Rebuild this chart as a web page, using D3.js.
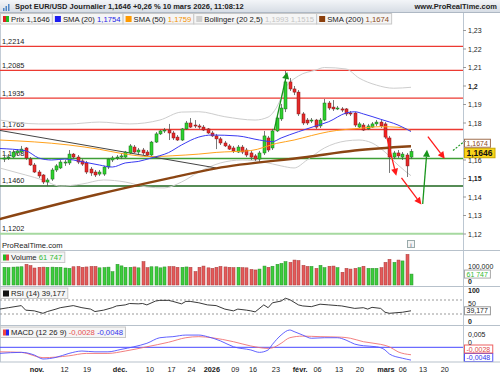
<!DOCTYPE html>
<html>
<head>
<meta charset="utf-8">
<title>Spot EUR/USD Journalier</title>
<script src="https://d3js.org/d3.v7.min.js"></script>
<style>
  body { margin: 0; background: #fff; }
  svg { display: block; font-family: "Liberation Sans", Arial, sans-serif; font-size: 7px; }
</style>
</head>
<body>
<svg id="chart" width="500" height="375"></svg>
<script>

// ---- daily candles, 95 trading days (index 0 .. 94 = 10 mars 2026)
var opens = [1.1605,1.1611,1.1616,1.1638,1.1643,1.1665,1.1605,1.1573,1.1535,1.1519,
  1.1481,1.1497,1.1546,1.1557,1.1584,1.1584,1.1632,1.1616,1.1595,1.1584,
  1.1551,1.1535,1.1524,1.1524,1.1562,1.1600,1.1611,1.1616,1.1616,1.1638,
  1.1670,1.1643,1.1654,1.1643,1.1627,1.1697,1.1741,1.1757,1.1762,1.1746,
  1.1724,1.1708,1.1768,1.1800,1.1789,1.1784,1.1778,1.1768,1.1746,1.1730,
  1.1714,1.1692,1.1676,1.1665,1.1643,1.1670,1.1654,1.1638,1.1622,1.1605,
  1.1638,1.1719,1.1665,1.1757,1.1822,1.1876,1.2022,1.1984,1.1967,1.1849,
  1.1816,1.1811,1.1816,1.1784,1.1816,1.1908,1.1886,1.1881,1.1876,1.1876,
  1.1854,1.1854,1.1778,1.1789,1.1768,1.1778,1.1795,1.1805,1.1795,1.1719,
  1.1616,1.1638,1.1616,1.1627,1.1616];
var highs = [1.1627,1.1632,1.1654,1.1659,1.1676,1.1670,1.1616,1.1584,1.1546,1.1524,
  1.1503,1.1557,1.1578,1.1600,1.1600,1.1654,1.1638,1.1627,1.1605,1.1595,
  1.1562,1.1546,1.1546,1.1568,1.1611,1.1622,1.1627,1.1638,1.1649,1.1686,
  1.1681,1.1665,1.1665,1.1654,1.1703,1.1751,1.1762,1.1773,1.1795,1.1757,
  1.1735,1.1773,1.1811,1.1827,1.1816,1.1795,1.1789,1.1773,1.1757,1.1741,
  1.1724,1.1703,1.1686,1.1676,1.1681,1.1681,1.1665,1.1649,1.1632,1.1649,
  1.1757,1.1730,1.1768,1.1838,1.1903,1.2081,1.2043,1.2000,1.1978,1.1859,
  1.1827,1.1827,1.1822,1.1827,1.1930,1.1919,1.1924,1.1892,1.1886,1.1881,
  1.1865,1.1859,1.1805,1.1800,1.1795,1.1805,1.1816,1.1816,1.1805,1.1730,
  1.1649,1.1654,1.1643,1.1638,1.1659];
var lows = [1.1589,1.1600,1.1611,1.1627,1.1632,1.1600,1.1568,1.1530,1.1503,1.1470,
  1.1459,1.1487,1.1535,1.1551,1.1568,1.1573,1.1605,1.1578,1.1568,1.1524,
  1.1514,1.1508,1.1514,1.1514,1.1551,1.1589,1.1600,1.1605,1.1611,1.1632,
  1.1638,1.1632,1.1627,1.1622,1.1622,1.1692,1.1735,1.1746,1.1708,1.1708,
  1.1703,1.1703,1.1762,1.1773,1.1773,1.1768,1.1757,1.1741,1.1724,1.1659,
  1.1681,1.1670,1.1654,1.1638,1.1638,1.1632,1.1616,1.1600,1.1595,1.1589,
  1.1627,1.1643,1.1654,1.1751,1.1811,1.1859,1.1973,1.1951,1.1838,1.1789,
  1.1789,1.1800,1.1768,1.1773,1.1811,1.1870,1.1865,1.1870,1.1859,1.1838,
  1.1838,1.1778,1.1773,1.1757,1.1762,1.1773,1.1784,1.1773,1.1714,1.1530,
  1.1605,1.1611,1.1600,1.1508,1.1605];
var closes = [1.1611,1.1616,1.1643,1.1649,1.1659,1.1611,1.1573,1.1535,1.1514,1.1481,
  1.1492,1.1546,1.1568,1.1589,1.1589,1.1632,1.1616,1.1589,1.1578,1.1535,
  1.1530,1.1519,1.1535,1.1562,1.1605,1.1611,1.1616,1.1622,1.1643,1.1676,
  1.1643,1.1654,1.1638,1.1627,1.1697,1.1741,1.1757,1.1762,1.1746,1.1719,
  1.1708,1.1768,1.1800,1.1778,1.1784,1.1778,1.1762,1.1746,1.1730,1.1714,
  1.1692,1.1676,1.1659,1.1649,1.1670,1.1643,1.1627,1.1616,1.1605,1.1638,
  1.1730,1.1654,1.1757,1.1827,1.1881,1.2022,1.1984,1.1967,1.1849,1.1800,
  1.1800,1.1816,1.1778,1.1816,1.1908,1.1881,1.1876,1.1881,1.1870,1.1849,
  1.1849,1.1789,1.1795,1.1762,1.1784,1.1795,1.1805,1.1784,1.1724,1.1616,
  1.1638,1.1622,1.1632,1.1568,1.1646];
var volumes = [100000,98000,101000,102000,103000,117000,110000,96000,100000,101000,
  100000,101000,100000,100000,96000,94000,103000,105000,100000,102000,
  105000,105000,97000,98000,101000,75000,117000,108000,100000,100000,
  102000,97000,132000,98000,103000,103000,97000,102000,104000,104000,
  100000,100000,102000,100000,76000,100000,107000,97000,94000,100000,
  105000,102000,100000,98000,100000,98000,97000,88000,85000,90000,
  107000,100000,106000,117000,122000,132000,128000,141000,138000,111000,
  105000,105000,94000,111000,98000,106000,107000,98000,72000,94000,
  90000,94000,98000,106000,94000,94000,94000,98000,128000,145000,
  128000,141000,136000,173000,61747];

// ---- indicators (index, value)
var sma20Idx = [-1,5,8,11,14,18,22,25,28,31,34,38,41,45,48,54,59,62,64,68,72,75,79,81,83,87,91,94];
var sma20Val = [1.1662,1.1650,1.1611,1.1600,1.1605,1.1591,1.1573,1.1562,1.1584,1.1592,1.1611,1.1640,1.1681,1.1724,
  1.1735,1.1730,1.1708,1.1699,1.1719,1.1753,1.1784,1.1807,1.1854,1.1861,1.1849,1.1820,1.1789,1.1754];
var sma50Idx = [-1,15,22,27,34,39,45,49,57,63,67,71,75,82,87,91,94];
var sma50Val = [1.1708,1.1681,1.1658,1.1636,1.1618,1.1623,1.1632,1.1641,1.1651,1.1690,1.1708,1.1732,1.1753,1.1771,1.1780,1.1777,1.1759];
var sma200Idx = [-1,21,38,49,70,81,94];
var sma200Val = [1.1281,1.1411,1.1501,1.1555,1.1616,1.1651,1.1674];
var bbUpIdx = [-1,8,15,22,29,36,41,45,51,58,61,63,65,68,72,74,79,82,86,90,94];
var bbUpVal = [1.1816,1.1795,1.1795,1.1805,1.1795,1.1816,1.1859,1.1861,1.1834,1.1816,1.1832,1.1886,1.1989,1.2054,
  1.2086,1.2100,1.2092,1.2043,1.2005,1.1988,1.1993];
var bbLoIdx = [-1,5,9,13,18,23,28,33,37,41,45,50,55,60,64,67,70,74,79,82,85,88,91,94];
var bbLoVal = [1.1557,1.1519,1.1492,1.1459,1.1470,1.1492,1.1481,1.1454,1.1449,1.1481,1.1535,1.1584,1.1600,1.1589,
  1.1568,1.1557,1.1600,1.1665,1.1703,1.1708,1.1692,1.1643,1.1573,1.1515];
var rsiIdx = [-1,1,4,5,7,9,10,12,13,16,18,20,21,23,25,26,28,29,31,32,33,35,36,38,39,41,42,43,45,47,
  49,51,53,54,56,57,58,60,61,62,64,65,66,68,69,71,73,75,77,78,81,83,84,85,87,88,89,91,92,94];
var rsiVal = [44,48,54,41,39,32,37,44,48,54,48,44,37,41,48,53,56,60,59,60,56,67,69,69,66,59,66,66,62,56,
  54,44,39,44,41,39,36,56,48,62,67,75,71,56,53,51,58,56,54,53,46,48,44,49,46,35,32,34,35,39.177];
var macdIdx = [-1,4,7,9,12,15,18,21,24,27,30,33,36,39,42,45,47,50,53,57,59,61,62,64,66,67,69,71,74,77,79,81,83,86,88,89,92,94];
var macdVal = [-0.0023,-0.0019,-0.0029,-0.0044,-0.0038,-0.0023,-0.0014,-0.0017,-0.0017,-0.0008,
  0.0002,0.0015,0.0036,0.0040,0.0046,0.0046,0.0040,0.0024,0.0002,-0.0010,
  -0.0019,-0.0010,0.0011,0.0046,0.0065,0.0059,0.0046,0.0034,0.0036,0.0036,
  0.0027,0.0012,0.0006,0.0002,-0.0010,-0.0025,-0.0041,-0.0048];
var sigIdx = [-1,4,9,15,19,24,28,33,38,42,45,48,53,57,61,62,64,66,69,73,78,80,83,87,89,91,94];
var sigVal = [-0.0017,-0.0019,-0.0039,-0.0032,-0.0023,-0.0023,-0.0014,0.0002,0.0019,0.0036,0.0040,0.0036,0.0021,
  0.0005,-0.0004,-0.0002,0.0015,0.0036,0.0042,0.0040,0.0038,0.0034,0.0021,0.0011,0.0002,-0.0017,-0.0028];

// ---- horizontal levels and drawn objects
var levelVals = [1.2214, 1.2085, 1.1935, 1.1765, 1.1608, 1.1460, 1.1202];
var levelKind = ["res", "res", "res", "res", "sup", "sup2", "sup3"];
var trendIdx = [-1, 49];
var trendVal = [1.1760, 1.1557];
var arrows = [
  {kind: "up", from: [62.4, 1.1762], to: [65.4, 1.2076]},
  {kind: "down", from: [88, 1.1762], to: [90.6, 1.1515]},
  {kind: "down", from: [91.8, 1.1503], to: [96.4, 1.1360]},
  {kind: "up", from: [96.7, 1.1362], to: [97.7, 1.1655]},
  {kind: "down", from: [97.9, 1.1726], to: [101.8, 1.1607]}
];

// ---- axis labels
var tickLabels = ["nov.","12","19","déc.","10","17","24","2026","09","16","23","févr.","06","13","20","mars","06","13","20"];
var tickIdx = [7.6,14,19.2,26.8,33.7,38.7,43.3,48,53.4,57.5,62.8,68.4,72.4,77.4,82.2,88.2,92.1,96.8,101.8];
var monthLabels = ["nov.","déc.","2026","févr.","mars"];

var svg = d3.select("#chart");
var plotR = 463;

var x = d3.scaleLinear().domain([0, 94]).range([4, 411]);
var yP = d3.scaleLinear().domain([1.12, 1.23]).range([234, 30.5]);
var yV = d3.scaleLinear().domain([0, 100000]).range([285, 267.3]);
var yR = d3.scaleLinear().domain([0, 100]).range([324.5, 289.5]);
var yM = d3.scaleLinear().domain([0, 0.005]).range([347.3, 334]);

var comma = function(v) { return String(v).replace(".", ","); };

var defs = svg.append("defs");
var grad = defs.append("linearGradient").attr("id", "hdr").attr("x1", 0).attr("x2", 0).attr("y1", 0).attr("y2", 1);
grad.append("stop").attr("offset", "0%").attr("stop-color", "#f3f5f8");
grad.append("stop").attr("offset", "100%").attr("stop-color", "#d6dce4");
defs.append("clipPath").attr("id", "mainClip").append("rect").attr("x", 0).attr("y", 25).attr("width", plotR).attr("height", 225);
defs.append("clipPath").attr("id", "plotClip").append("rect").attr("x", 0).attr("y", 250).attr("width", plotR).attr("height", 112);

// header
svg.append("rect").attr("x", 0).attr("y", 0).attr("width", 500).attr("height", 12.5).attr("fill", "url(#hdr)");
svg.append("line").attr("x1", 0).attr("x2", 500).attr("y1", 12.5).attr("y2", 12.5).attr("stroke", "#aeb8c4");
[3, 5.5, 8].forEach(function(bx, k) {
  svg.append("rect").attr("x", bx).attr("y", 8 - k * 2).attr("width", 1.5).attr("height", 3 + k * 2).attr("fill", "#4f86c6");
});
svg.append("text").attr("x", 15).attr("y", 9.2).attr("font-weight", "bold").attr("font-size", 7.5).attr("fill", "#222")
  .text("Spot EUR/USD Journalier 1,1646 +0,26 % 10 mars 2026, 11:08:12");
svg.append("text").attr("x", 497).attr("y", 9.2).attr("text-anchor", "end").attr("font-weight", "bold").attr("font-size", 7.5).attr("fill", "#222")
  .text("www.ProRealTime.com");

// legend boxes, laid out from their measured text
function icon(g, type, ix, iy) {
  var cols = {pr: ["#dd2222", "#22bb22"], vol: ["#22bb22", "#dd4444"], macd: ["#ee4444", "#2222ee"]};
  if (cols[type]) {
    g.append("rect").attr("x", ix).attr("y", iy).attr("width", 3).attr("height", 6).attr("fill", cols[type][0]);
    g.append("rect").attr("x", ix + 3).attr("y", iy).attr("width", 3).attr("height", 6).attr("fill", cols[type][1]);
  } else {
    g.append("rect").attr("x", ix).attr("y", iy).attr("width", 6).attr("height", 6).attr("fill", type);
  }
}
function legend(x0, y0, items) {
  var cx = x0;
  items.forEach(function(it) {
    var g = svg.append("g");
    var box = g.append("rect").attr("x", cx + 0.5).attr("y", y0 + 0.5).attr("height", 10.5)
      .attr("fill", "#f5f5f5").attr("stroke", "#c8c8c8");
    icon(g, it.icon, cx + 3, y0 + 3);
    var t = g.append("text").attr("x", cx + 11).attr("y", y0 + 8.6).attr("font-size", 7.7);
    t.append("tspan").attr("fill", "#222").text(it.name + " ");
    it.vals.forEach(function(v, k) {
      t.append("tspan").attr("fill", it.colors[k]).text((k ? " " : "") + v);
    });
    var w = t.node().getComputedTextLength() + 13;
    box.attr("width", w);
    cx += w;
  });
}
legend(0, 13, [
  {icon: "pr", name: "Prix", vals: ["1,1646"], colors: ["#222"]},
  {icon: "#1c1cf0", name: "SMA (20)", vals: ["1,1754"], colors: ["#2525e6"]},
  {icon: "#ff9a00", name: "SMA (50)", vals: ["1,1759"], colors: ["#f39200"]},
  {icon: "#cfcfcf", name: "Bollinger (20 2,5)", vals: ["1,1993", "1,1515"], colors: ["#c4c4c4", "#c4c4c4"]},
  {icon: "#8b3f0c", name: "SMA (200)", vals: ["1,1674"], colors: ["#8b4a1a"]}
]);

// right axis line
svg.append("line").attr("x1", plotR + 0.5).attr("x2", plotR + 0.5).attr("y1", 13).attr("y2", 362).attr("stroke", "#bcc7d2");
svg.append("line").attr("x1", 0.5).attr("x2", 0.5).attr("y1", 25).attr("y2", 362).attr("stroke", "#c3ccd6");

// ---- main price panel
var main = svg.append("g").attr("clip-path", "url(#mainClip)");
var levelStyle = {
  res: {c: "#ec3a32", w: 1.3},
  sup: {c: "#3f9e36", w: 1.5},
  sup2: {c: "#1e661e", w: 1.5},
  sup3: {c: "#a6d9a0", w: 2}
};
levelVals.forEach(function(v, k) {
  var s = levelStyle[levelKind[k]];
  main.append("line").attr("x1", 0).attr("x2", plotR).attr("y1", yP(v)).attr("y2", yP(v))
    .attr("stroke", s.c).attr("stroke-width", s.w);
  main.append("text").attr("x", 2).attr("y", yP(v) - 2.5).attr("fill", "#222").attr("font-size", 7.3)
    .text(comma(v.toFixed(4)));
});

function path(g, idx, vals, yScale, color, width, curve) {
  var pts = idx.map(function(d, k) { return [d, vals[k]]; });
  g.append("path")
    .attr("d", d3.line().x(function(d) { return x(d[0]); }).y(function(d) { return yScale(d[1]); })
      .curve(curve || d3.curveMonotoneX)(pts))
    .attr("fill", "none").attr("stroke", color).attr("stroke-width", width);
}

path(main, bbUpIdx, bbUpVal, yP, "#cdcdcd", 1);
path(main, bbLoIdx, bbLoVal, yP, "#cdcdcd", 1);
path(main, trendIdx, trendVal, yP, "#444", 1, d3.curveLinear);

var candles = d3.range(opens.length).map(function(i) {
  return {i: i, o: opens[i], h: highs[i], l: lows[i], c: closes[i]};
});
var cg = main.append("g").selectAll("g").data(candles).enter().append("g");
cg.append("line")
  .attr("x1", function(d) { return Math.round(x(d.i)) + 0.5; })
  .attr("x2", function(d) { return Math.round(x(d.i)) + 0.5; })
  .attr("y1", function(d) { return yP(d.h); })
  .attr("y2", function(d) { return yP(d.l); })
  .attr("stroke", "#555").attr("stroke-width", 0.8);
cg.append("rect")
  .attr("x", function(d) { return Math.round(x(d.i)) - 1; })
  .attr("width", 3)
  .attr("y", function(d) { return yP(Math.max(d.o, d.c)); })
  .attr("height", function(d) { return Math.max(1, Math.abs(yP(d.o) - yP(d.c))); })
  .attr("fill", function(d) { return d.c >= d.o ? "#2ed12e" : "#e52a2a"; })
  .attr("stroke", function(d) { return d.c >= d.o ? "#1b6e1b" : "#8a1616"; })
  .attr("stroke-width", 0.5);

path(main, sma50Idx, sma50Val, yP, "#ffa21c", 1);
path(main, sma20Idx, sma20Val, yP, "#3a3af2", 1);
path(main, sma200Idx, sma200Val, yP, "#8b4513", 2.4);

// drawn arrows
arrows.forEach(function(a) {
  var col = a.kind === "up" ? "#18951c" : "#ff1a1a";
  var x1 = x(a.from[0]), y1 = yP(a.from[1]), x2 = x(a.to[0]), y2 = yP(a.to[1]);
  var ang = Math.atan2(y2 - y1, x2 - x1);
  var bx = x2 - 7 * Math.cos(ang), by = y2 - 7 * Math.sin(ang);
  main.append("line").attr("x1", x1).attr("y1", y1).attr("x2", bx).attr("y2", by)
    .attr("stroke", col).attr("stroke-width", 1.3);
  var px = -Math.sin(ang) * 3.5, py = Math.cos(ang) * 3.5;
  main.append("polygon")
    .attr("points", [[x2, y2], [bx + px, by + py], [bx - px, by - py]].map(function(p) { return p.join(","); }).join(" "))
    .attr("fill", col);
});
main.append("line").attr("x1", x(103.7)).attr("y1", yP(1.1651)).attr("x2", plotR).attr("y2", yP(1.1695))
  .attr("stroke", "#18951c").attr("stroke-width", 1.2).attr("stroke-dasharray", "2,1.5");

// right-hand value boxes
var boxes = [];
function valueBox(yc, txt, fill, stroke, color, bold) {
  var h = bold ? 9.5 : 8;
  var g = svg.append("g");
  var r = g.append("rect").attr("x", plotR + 1.5).attr("y", yc - h / 2).attr("height", h)
    .attr("fill", fill).attr("stroke", stroke);
  var t = g.append("text").attr("x", plotR + 3.5).attr("y", yc + (bold ? 2.9 : 2.5)).attr("fill", color)
    .attr("font-weight", bold ? "bold" : null).attr("font-size", bold ? 8.5 : 7).text(txt);
  r.attr("width", t.node().getComputedTextLength() + 4.5);
  boxes.push([yc - h / 2, yc + h / 2]);
  return yc - h / 2;
}
var lastTop = valueBox(yP(closes[94]) + 1.5, "1,1646", "#f9d31a", "#c9a800", "#111", true);
valueBox(Math.min(yP(sma200Val[sma200Val.length - 1]), lastTop - 5), "1,1674", "#fff", "#a07050", "#8b4a1a");
valueBox(yV(volumes[94]), "61 747", "#fff", "#aaa", "#33bb33");
valueBox(yR(rsiVal[rsiVal.length - 1]), "39,177", "#fff", "#999", "#222");
var macdTop = valueBox(Math.min(yM(macdVal[macdVal.length - 1]), 357.5), "-0,0048", "#fff", "#5050ff", "#3434ee");
valueBox(Math.min(yM(sigVal[sigVal.length - 1]), macdTop - 4.5), "-0,0028", "#fff", "#ee6060", "#e04848");

// axis labels, kept clear of the value boxes
function axisLabel(yy, txt, bold) {
  var top = yy - 2.2, bot = yy + 2.2;
  var hidden = boxes.some(function(b) { return bot > b[0] && top < b[1]; });
  if (hidden) return;
  svg.append("text").attr("x", plotR + 5).attr("y", yy + 2.5).attr("fill", "#222")
    .attr("font-weight", bold ? "bold" : null).text(txt);
}
d3.range(112, 124).forEach(function(t) {
  var v = t / 100, yy = yP(v);
  svg.append("line").attr("x1", plotR).attr("x2", plotR + 3).attr("y1", yy).attr("y2", yy).attr("stroke", "#999");
  axisLabel(yy, comma(+v.toFixed(2)), t % 5 === 0);
});
axisLabel(yV(100000) - 0.8, "100,000");
axisLabel(yV(0) - 3.5, "0", true);
axisLabel(yR(100) + 1.2, "100", true);
axisLabel(yR(50) - 3.5, "50");
axisLabel(yR(0) - 3, "0", true);
axisLabel(yM(0.005), "0,005");
axisLabel(yM(0) - 4.8, "0");

// source line and info icon
svg.append("text").attr("x", 2).attr("y", 248.3).attr("fill", "#222").attr("font-size", 7.6).text("ProRealTime.com");
svg.append("rect").attr("x", 407.5).attr("y", 240.5).attr("width", 7).attr("height", 7).attr("fill", "#f4f4f4").attr("stroke", "#9aa");
svg.append("text").attr("x", 411).attr("y", 246.5).attr("text-anchor", "middle").attr("font-size", 6).attr("fill", "#446").text("i");

// panel separators
[250.5, 286.5, 325.5, 362].forEach(function(sy) {
  svg.append("line").attr("x1", 0).attr("x2", 500).attr("y1", sy).attr("y2", sy).attr("stroke", "#b7c1cb");
});

// ---- volume
var low = svg.append("g").attr("clip-path", "url(#plotClip)");
low.append("g").selectAll("rect").data(candles).enter().append("rect")
  .attr("x", function(d) { return Math.round(x(d.i)) - 1; })
  .attr("width", 3)
  .attr("y", function(d) { return yV(volumes[d.i]); })
  .attr("height", function(d) { return yV(0) - yV(volumes[d.i]); })
  .attr("fill", function(d) { return d.c >= d.o ? "#3dcc3d" : "#e35b5b"; })
  .attr("stroke", function(d) { return d.c >= d.o ? "#2a8f2a" : "#a93a3a"; })
  .attr("stroke-width", 0.5);

// ---- RSI
[70, 30].forEach(function(lv) {
  low.append("line").attr("x1", 0).attr("x2", plotR).attr("y1", yR(lv)).attr("y2", yR(lv))
    .attr("stroke", "#999").attr("stroke-dasharray", "2,2");
});
path(low, rsiIdx, rsiVal, yR, "#222", 0.9, d3.curveLinear);

// ---- MACD
low.append("line").attr("x1", 0).attr("x2", plotR).attr("y1", yM(0)).attr("y2", yM(0)).attr("stroke", "#4646ff");
path(low, sigIdx, sigVal, yM, "#f07070", 0.9);
path(low, macdIdx, macdVal, yM, "#5050ff", 0.9);

legend(0, 251.5, [{icon: "vol", name: "Volume", vals: ["61 747"], colors: ["#33bb33"]}]);
legend(0, 287.5, [{icon: "#111", name: "RSI (14)", vals: ["39,177"], colors: ["#222"]}]);
legend(0, 326.5, [{icon: "macd", name: "MACD (12 26 9)", vals: ["-0,0028", "-0,0048"], colors: ["#e85050", "#3434ee"]}]);

// date axis
svg.append("g").selectAll("text").data(tickLabels).enter().append("text")
  .attr("x", function(d, k) { return x(tickIdx[k]); })
  .attr("y", 372)
  .attr("text-anchor", "middle")
  .attr("font-size", 7.3)
  .attr("font-weight", function(d) { return monthLabels.indexOf(d) >= 0 ? "bold" : null; })
  .attr("fill", "#222")
  .text(function(d) { return d; });

</script>
</body>
</html>
